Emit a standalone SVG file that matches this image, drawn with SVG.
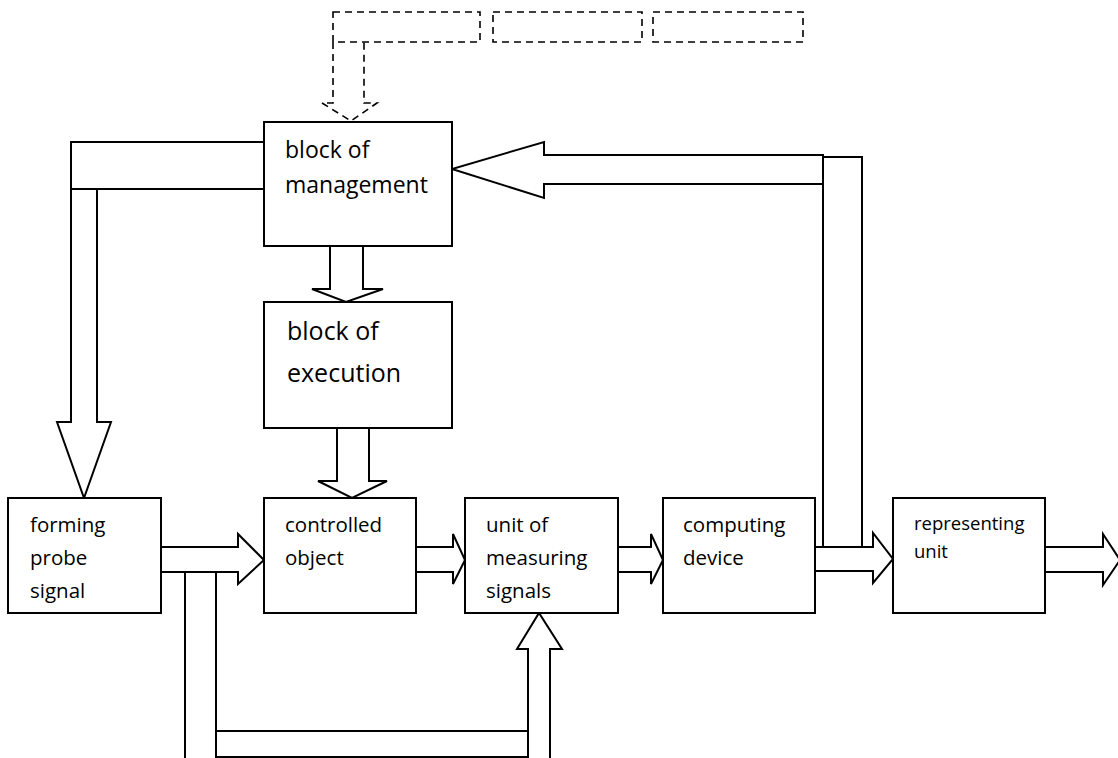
<svg xmlns="http://www.w3.org/2000/svg" width="1118" height="758" viewBox="0 0 1118 758">
<style>
.box{fill:#fff;stroke:#000;stroke-width:2}
.c{fill:#fff;stroke:#000;stroke-width:2;stroke-linejoin:miter}
.ln{fill:none;stroke:#000;stroke-width:2}
.d{fill:none;stroke:#000;stroke-width:1.6;stroke-dasharray:7 5}
text{font-family:"Open Sans","Liberation Sans",sans-serif;fill:#000}
.t{font-size:20.5px}
.tm{font-size:23px}
.te{font-size:25px}
.tr{font-size:18.5px}
</style>
<rect width="1118" height="758" fill="#fff"/>
<g id="connectors">
<polygon class="c" points="330,246 330,289 312,289 346,302 383,289 363,289 363,246"/>
<polygon class="c" points="337,428 337,481 318,481 352,498 387,481 369,481 369,428"/>
<polygon class="c" points="264,142 71,142 71,422 57,422 84,498 111,422 97,422 97,189 264,189"/>
<line class="ln" x1="71" y1="189" x2="97" y2="189"/>
<path class="c" d="M823,155 V548 H862 V157 H823"/>
<polygon class="c" points="823,155 544,155 544,142 452,169 544,198 544,184 823,184"/>
<polygon class="c" points="815,547 873,547 873,533 893,559 873,583 873,571 815,571"/>
<line class="ln" x1="823" y1="547" x2="862" y2="547"/>
<line class="ln" x1="185" y1="572" x2="185" y2="758"/>
<line class="ln" x1="216" y1="572" x2="216" y2="758"/>
<line class="ln" x1="216" y1="731" x2="528" y2="731"/>
<line class="ln" x1="216" y1="757" x2="528" y2="757"/>
<polygon class="c" points="528,759 528,649 517,649 539,613 562,649 550,649 550,759"/>
<polygon class="c" points="161,547 238,547 238,534 264,560 238,584 238,572 161,572"/>
<polygon class="c" points="416,547 453,547 453,534 465,560 453,584 453,572 416,572"/>
<polygon class="c" points="618,547 651,547 651,534 663,560 651,584 651,572 618,572"/>
<polygon class="c" points="1045,547 1103,547 1103,534 1120,560 1103,585 1103,572 1045,572"/>
<polyline class="d" points="333,42 333,103 322,103 351,121 377,103 364,103 364,42"/>
</g>
<g id="dashed1"><rect class="d" x="333" y="12" width="147" height="30"/></g>
<g id="dashed2"><rect class="d" x="493" y="12" width="149" height="30"/></g>
<g id="dashed3"><rect class="d" x="653" y="12" width="150" height="30"/></g>
<g id="management">
<rect class="box" x="264" y="122" width="188" height="124"/>
<text class="tm" x="285" y="158">block of</text>
<text class="tm" x="285" y="193">management</text>
</g>
<g id="execution">
<rect class="box" x="264" y="302" width="188" height="126"/>
<text class="te" x="287" y="340">block of</text>
<text class="te" x="287" y="382">execution</text>
</g>
<g id="forming">
<rect class="box" x="8" y="498" width="153" height="115"/>
<text class="t" x="30" y="532">forming</text>
<text class="t" x="30" y="565">probe</text>
<text class="t" x="30" y="598">signal</text>
</g>
<g id="controlled">
<rect class="box" x="264" y="498" width="152" height="115"/>
<text class="t" x="285" y="532">controlled</text>
<text class="t" x="285" y="565">object</text>
</g>
<g id="measuring">
<rect class="box" x="465" y="498" width="153" height="115"/>
<text class="t" x="486" y="532">unit of</text>
<text class="t" x="486" y="565">measuring</text>
<text class="t" x="486" y="598">signals</text>
</g>
<g id="computing">
<rect class="box" x="663" y="498" width="152" height="115"/>
<text class="t" x="683" y="532">computing</text>
<text class="t" x="683" y="565">device</text>
</g>
<g id="representing">
<rect class="box" x="893" y="498" width="152" height="115"/>
<text class="tr" x="914" y="530">representing</text>
<text class="tr" x="914" y="558">unit</text>
</g>
</svg>
